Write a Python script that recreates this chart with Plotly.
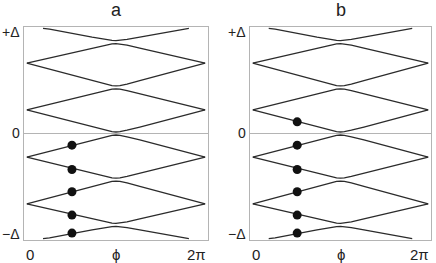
import math
import plotly.graph_objects as go

PI = math.pi
# phase knots for the diamond-shaped levels
phi_d = [0, 2.3, 2.75, 3.0, PI, 3.28, 3.53, 3.98, 2 * PI]
# phase knots for the outermost levels (which end at the gap edge)
phi_t = [0.57, 0.8, 2.3, 2.75, 3.0, PI, 3.28, 3.53, 3.98, 5.48, 5.71]

# energies in units of Delta
lvl_top = [0.993, 0.985, 0.909, 0.888, 0.879, 0.877, 0.879, 0.888, 0.909, 0.985, 0.993]
lvl_a = [0.665, 0.806, 0.834, 0.846, 0.849, 0.846, 0.834, 0.806, 0.665]
lvl_b = [0.665, 0.498, 0.467, 0.452, 0.449, 0.452, 0.467, 0.498, 0.665]
lvl_c = [0.222, 0.376, 0.405, 0.418, 0.421, 0.418, 0.405, 0.376, 0.222]
lvl_d = [0.222, 0.061, 0.031, 0.017, 0.014, 0.017, 0.031, 0.061, 0.222]
lvl_e = [-0.222, -0.061, -0.031, -0.017, -0.014, -0.017, -0.031, -0.061, -0.222]
lvl_f = [-0.222, -0.376, -0.405, -0.418, -0.421, -0.418, -0.405, -0.376, -0.222]
lvl_g = [-0.665, -0.498, -0.467, -0.452, -0.449, -0.452, -0.467, -0.498, -0.665]
lvl_h = [-0.665, -0.806, -0.834, -0.846, -0.849, -0.846, -0.834, -0.806, -0.665]
lvl_bot = [-0.993, -0.985, -0.909, -0.888, -0.879, -0.877, -0.879, -0.888, -0.909, -0.985, -0.993]

# occupied states (dots)
dots_a_phi = [1.59, 1.59, 1.59, 1.59, 1.59]
dots_a_E = [-0.11, -0.34, -0.55, -0.77, -0.94]
dots_b_phi = [1.59, 1.59, 1.59, 1.59, 1.59, 1.59]
dots_b_E = [0.11, -0.11, -0.34, -0.55, -0.77, -0.94]

panel_titles = ["a", "b"]
y_labels = ["+Δ", "0", "−Δ"]
x_labels = ["0", "ϕ", "2π"]

LINE = "#2b2b2b"
FRAME = "#b4b4b4"
FONT = "Liberation Sans, Arial, sans-serif"

fig = go.Figure()

levels_d = [lvl_a, lvl_b, lvl_c, lvl_d, lvl_e, lvl_f, lvl_g, lvl_h]
levels_t = [lvl_top, lvl_bot]
for k, (xa, ya, dphi, dE) in enumerate([("x", "y", dots_a_phi, dots_a_E),
                                         ("x2", "y2", dots_b_phi, dots_b_E)]):
    for lv in levels_d:
        fig.add_trace(go.Scatter(x=phi_d, y=lv, mode="lines", xaxis=xa, yaxis=ya,
                                 line=dict(color=LINE, width=1.3), showlegend=False,
                                 hoverinfo="skip"))
    for lv in levels_t:
        fig.add_trace(go.Scatter(x=phi_t, y=lv, mode="lines", xaxis=xa, yaxis=ya,
                                 line=dict(color=LINE, width=1.3), showlegend=False,
                                 hoverinfo="skip"))
    fig.add_trace(go.Scatter(x=dphi, y=dE, mode="markers", xaxis=xa, yaxis=ya,
                             marker=dict(color="#111111", size=9), showlegend=False,
                             hoverinfo="skip"))

W, H = 436, 263
boxes = [(24, 208), (250, 431)]
top_px, bot_px = 27, 240

def px_x(p):
    return p / W

def px_y(p):
    return 1 - p / H

axis_common = dict(showgrid=False, showticklabels=False, ticks="", showline=True,
                   linecolor=FRAME, linewidth=1, mirror=True, fixedrange=True)
fig.update_layout(
    width=W, height=H, margin=dict(l=0, r=0, t=0, b=0),
    paper_bgcolor="white", plot_bgcolor="white",
    font=dict(family=FONT, color="#222222"),
    xaxis=dict(domain=[px_x(boxes[0][0]), px_x(boxes[0][1])], range=[-0.1, 2 * PI + 0.1],
               zeroline=False, **axis_common),
    xaxis2=dict(domain=[px_x(boxes[1][0]), px_x(boxes[1][1])], range=[-0.1, 2 * PI + 0.1],
                zeroline=False, **axis_common),
    yaxis=dict(domain=[px_y(bot_px), px_y(top_px)], range=[-1.005, 1.005], anchor="x",
               zeroline=True, zerolinecolor=FRAME, zerolinewidth=1, **axis_common),
    yaxis2=dict(domain=[px_y(bot_px), px_y(top_px)], range=[-1.005, 1.005], anchor="x2",
                zeroline=True, zerolinecolor=FRAME, zerolinewidth=1, **axis_common),
)

ann = []
for i, (l, r) in enumerate(boxes):
    ann.append(dict(text=panel_titles[i], x=px_x((l + r) / 2), y=px_y(10), xref="paper", yref="paper",
                    xanchor="center", yanchor="middle", showarrow=False, font=dict(size=18)))
    for lab, yp in zip(y_labels, [32, 133, 234]):
        ann.append(dict(text=lab, x=px_x(l - 2), y=px_y(yp), xref="paper", yref="paper",
                        xanchor="right", yanchor="middle", showarrow=False, font=dict(size=14)))
    for lab, xp, anc in zip(x_labels, [l, (l + r) / 2, r], ["left", "center", "right"]):
        ann.append(dict(text=lab, x=px_x(xp), y=px_y(254), xref="paper", yref="paper",
                        xanchor=anc, yanchor="middle", showarrow=False, font=dict(size=15)))
fig.update_layout(annotations=ann)

fig.write_html("out.html", config={"displayModeBar": False, "staticPlot": True},
               post_script="document.body.style.margin='0';document.body.style.overflow='hidden';")
